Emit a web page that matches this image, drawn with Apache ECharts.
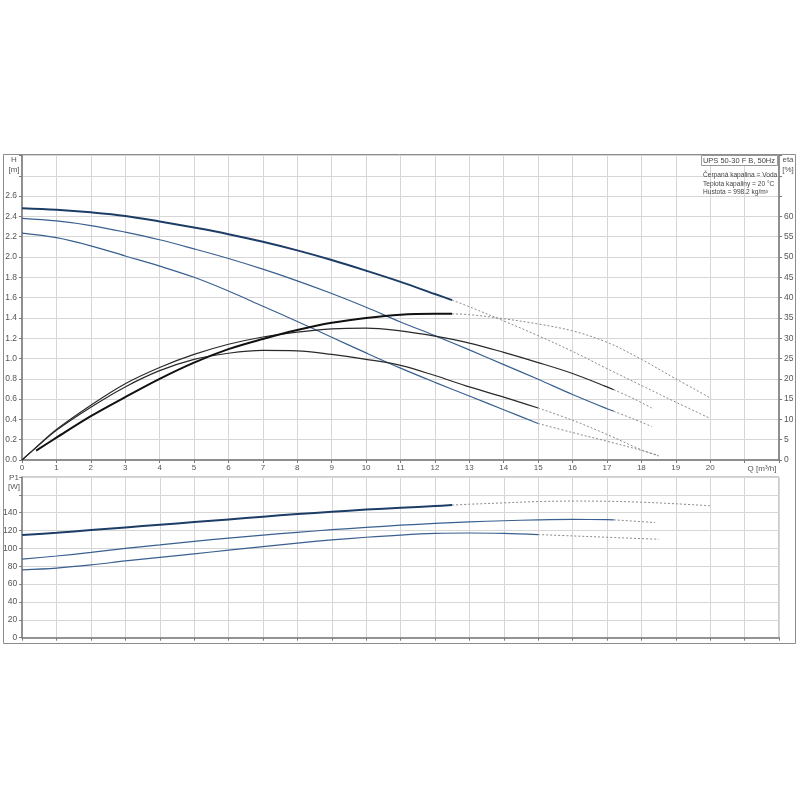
<!DOCTYPE html>
<html><head><meta charset="utf-8">
<script src="https://cdn.jsdelivr.net/npm/echarts@6/dist/echarts.min.js"></script>
<style>html,body{margin:0;padding:0;background:#fff}#c{width:800px;height:800px}</style>
</head><body><div id="c"></div>
<script>
// ---- data: head H [m] ----
const qH1 = [0,1,2,3,4,5,6,7,8,9,10,11,12,12.5];
const h1 = [2.48,2.465,2.44,2.405,2.35,2.29,2.225,2.15,2.065,1.97,1.865,1.755,1.635,1.575];
const qH1Ext = [12.5,13,14,15,16,17,18,19,20];
const h1Ext = [1.575,1.51,1.37,1.225,1.07,0.9,0.735,0.57,0.41];

const qH2 = [0,1,2,3,4,5,6,7,8,9,10,11,12,13,14,15,16,17,17.2];
const h2 = [2.38,2.355,2.31,2.245,2.17,2.08,1.985,1.88,1.765,1.64,1.505,1.36,1.225,1.085,0.94,0.795,0.645,0.505,0.48];
const qH2Ext = [17.2,17.8,18.3];
const h2Ext = [0.48,0.40,0.33];

const qH3 = [0,1,2,3,4,5,6,7,8,9,10,11,12,13,14,15];
const h3 = [2.235,2.19,2.11,2.01,1.91,1.80,1.665,1.515,1.365,1.21,1.055,0.905,0.765,0.63,0.495,0.36];
const qH3Ext = [15,16,17,18,18.5];
const h3Ext = [0.36,0.27,0.185,0.095,0.045];

// ---- data: efficiency eta [%] ----
const qE1 = [0.41,1,2,3,4,5,6,7,8,9,10,11,12,12.5];
const eta1 = [2.3,5.5,10.8,15.5,20,24,27.3,29.8,32,33.8,35,35.8,36,36];
const qE1Ext = [12.5,13,14,15,16,17,18,19,20];
const eta1Ext = [36,35.8,34.8,33.5,31.8,29,24.8,20,15.3];

const qE2 = [0,0.33,1,2,3,4,5,6,7,8,9,10,11,12,13,14,15,16,17,17.2];
const eta2 = [0,2.5,7.5,13.5,18.8,22.8,26,28.5,30.3,31.5,32.3,32.5,31.8,30.5,28.8,26.5,24,21.3,18,17.3];
const qE2Ext = [17.2,17.8,18.3];
const eta2Ext = [17.3,15,12.8];

const qE3 = [0,0.33,1,2,3,4,5,6,7,8,9,10,11,12,13,14,15];
const eta3 = [0,2.5,7.3,13,18,22,24.8,26.3,27,26.9,26,24.8,23.3,20.8,18,15.5,12.8];
const qE3Ext = [15,16,17,18,18.5];
const eta3Ext = [12.8,9.8,6.3,2.5,1];

// ---- data: power P1 [W] ----
const qP1 = [0,1,2,3,4,5,6,7,8,9,10,11,12,12.5];
const p1 = [115,117.5,120.5,123.5,126.5,129.5,132.5,135.5,138.5,141,143.5,145.5,147.5,148.5];
const qP1Ext = [12.5,13,14,15,16,17,18,19,20];
const p1Ext = [148.5,149.5,151,152.5,153,152.8,151.8,150,147.8];

const qP2 = [0,1,2,3,4,5,6,7,8,9,10,11,12,13,14,15,16,17,17.2];
const p2 = [88,91.5,95.5,100,104,108,111.5,115,118,121,123.5,126,128,129.8,131,132,132.5,132.2,132];
const qP2Ext = [17.2,18.4];
const p2Ext = [132,129];

const qP3 = [0,1,2,3,4,5,6,7,8,9,10,11,12,13,14,15];
const p3 = [76,78,81.5,86,90,94,98,102,106,109.5,112.5,115,116.8,117.3,116.8,115.5];
const qP3Ext = [15,16,17,18,18.5];
const p3Ext = [115.5,114,112.5,111,110.3];

// ---- labels ----
const titleText = 'UPS 50-30 F B, 50Hz';
const infoLines = ['Čerpaná kapalina = Voda','Teplota kapaliny = 20 °C','Hustota = 998.2 kg/m³'];

const zip = (xs, ys) => xs.map((x, i) => [x, ys[i]]);
const FONT = 'Liberation Sans, Arial, sans-serif';
const LBL = '#555';
const GRID = '#d6d6d6';
const AXL = '#7a7a7a';

function solid(name, xs, ys, xi, yi, color, width) {
  return {name, type:'line', xAxisIndex:xi, yAxisIndex:yi, data:zip(xs,ys), smooth:0.35,
    showSymbol:false, symbol:'none', lineStyle:{color, width}, silent:true, z:3};
}
function dotted(name, xs, ys, xi, yi) {
  return {name, type:'line', xAxisIndex:xi, yAxisIndex:yi, data:zip(xs,ys), smooth:0.35,
    showSymbol:false, symbol:'none', lineStyle:{color:'#8a8a8a', width:1, type:[2,2]}, silent:true, z:2};
}

const chart = echarts.init(document.getElementById('c'), null, {renderer:'canvas'});
const BLUE_D = '#1d3d66', BLUE = '#3a6090', BLK = '#111', BLK2 = '#2a2a2a';

const xCommon = {type:'value', min:0, max:22, interval:1,
  splitLine:{show:true, lineStyle:{color:GRID, width:1}},
  axisLine:{show:true, onZero:false, lineStyle:{color:AXL, width:1.5}},
  axisTick:{show:true, length:3, lineStyle:{color:AXL}}};

chart.setOption({
  animation:false,
  backgroundColor:'#fff',
  textStyle:{fontFamily:FONT},
  grid:[
    {left:22, right:21, top:155.5, height:304.5, show:true, borderColor:'#999', borderWidth:1},
    {left:22, right:21, top:477, height:160.7, show:true, borderColor:'#999', borderWidth:1}
  ],
  xAxis:[
    Object.assign({}, xCommon, {gridIndex:0,
      axisLabel:{show:true, color:LBL, fontSize:8, margin:4, fontFamily:FONT,
        formatter:v => v <= 20 ? String(v) : ''}}),
    Object.assign({}, xCommon, {gridIndex:1, axisLabel:{show:false}})
  ],
  yAxis:[
    {type:'value', gridIndex:0, min:0, max:3.0, interval:0.2, position:'left',
      splitLine:{show:true, lineStyle:{color:GRID}},
      axisLine:{show:true, onZero:false, lineStyle:{color:AXL, width:1.5}},
      axisTick:{show:true, length:3, lineStyle:{color:AXL}},
      axisLabel:{color:LBL, fontSize:8.5, margin:5, fontFamily:FONT,
        formatter:v => v > 2.65 ? '' : v.toFixed(1)}},
    {type:'value', gridIndex:0, min:0, max:75, interval:5, position:'right',
      splitLine:{show:false},
      axisLine:{show:true, onZero:false, lineStyle:{color:AXL, width:1.5}},
      axisTick:{show:true, length:3, lineStyle:{color:AXL}},
      axisLabel:{color:LBL, fontSize:8.5, margin:5, fontFamily:FONT,
        formatter:v => v > 62 ? '' : String(v)}},
    {type:'value', gridIndex:1, min:0, max:180, interval:20, position:'left',
      splitLine:{show:true, lineStyle:{color:GRID}},
      axisLine:{show:true, onZero:false, lineStyle:{color:AXL, width:1.5}},
      axisTick:{show:true, length:3, lineStyle:{color:AXL}},
      axisLabel:{color:LBL, fontSize:8.5, margin:5, fontFamily:FONT,
        formatter:v => v > 150 ? '' : String(v)}}
  ],
  series:[
    dotted('H1 ext', qH1Ext, h1Ext, 0, 0),
    dotted('H2 ext', qH2Ext, h2Ext, 0, 0),
    dotted('H3 ext', qH3Ext, h3Ext, 0, 0),
    dotted('eta1 ext', qE1Ext, eta1Ext, 0, 1),
    dotted('eta2 ext', qE2Ext, eta2Ext, 0, 1),
    dotted('eta3 ext', qE3Ext, eta3Ext, 0, 1),
    dotted('P1 ext', qP1Ext, p1Ext, 1, 2),
    dotted('P2 ext', qP2Ext, p2Ext, 1, 2),
    dotted('P3 ext', qP3Ext, p3Ext, 1, 2),
    solid('H2', qH2, h2, 0, 0, BLUE, 1.2),
    solid('H3', qH3, h3, 0, 0, BLUE, 1.2),
    solid('H1', qH1, h1, 0, 0, BLUE_D, 2),
    solid('eta2', qE2, eta2, 0, 1, BLK2, 1.2),
    solid('eta3', qE3, eta3, 0, 1, BLK2, 1.2),
    solid('eta1', qE1, eta1, 0, 1, BLK, 2),
    solid('P2', qP2, p2, 1, 2, BLUE, 1.2),
    solid('P3', qP3, p3, 1, 2, BLUE, 1.2),
    solid('P1', qP1, p1, 1, 2, BLUE_D, 2)
  ],
  graphic:[
    {type:'rect', shape:{x:3.5, y:154.5, width:792, height:489}, style:{fill:'none', stroke:'#8c8c8c', lineWidth:1}, z:100, silent:true},
    {type:'rect', shape:{x:701.5, y:155.5, width:76, height:10}, style:{fill:'#fff', stroke:'#999', lineWidth:1}, z:101, silent:true},
    {type:'text', x:775, y:160.5, style:{text:titleText, fill:'#444', font:'7.5px '+FONT, textAlign:'right', textVerticalAlign:'middle'}, z:102},
    {type:'text', x:703, y:175, style:{text:infoLines[0], fill:'#444', font:'6.6px '+FONT, textVerticalAlign:'middle'}, z:102},
    {type:'text', x:703, y:184, style:{text:infoLines[1], fill:'#444', font:'6.6px '+FONT, textVerticalAlign:'middle'}, z:102},
    {type:'text', x:703, y:192.5, style:{text:infoLines[2], fill:'#444', font:'6.6px '+FONT, textVerticalAlign:'middle'}, z:102},
    {type:'text', x:14, y:160, style:{text:'H', fill:LBL, font:'8px '+FONT, textAlign:'center', textVerticalAlign:'middle'}, z:102},
    {type:'text', x:14, y:169.5, style:{text:'[m]', fill:LBL, font:'8px '+FONT, textAlign:'center', textVerticalAlign:'middle'}, z:102},
    {type:'text', x:788, y:160, style:{text:'eta', fill:LBL, font:'8px '+FONT, textAlign:'center', textVerticalAlign:'middle'}, z:102},
    {type:'text', x:788, y:169.5, style:{text:'[%]', fill:LBL, font:'8px '+FONT, textAlign:'center', textVerticalAlign:'middle'}, z:102},
    {type:'text', x:14, y:477.5, style:{text:'P1', fill:LBL, font:'8px '+FONT, textAlign:'center', textVerticalAlign:'middle'}, z:102},
    {type:'text', x:14, y:487, style:{text:'[W]', fill:LBL, font:'8px '+FONT, textAlign:'center', textVerticalAlign:'middle'}, z:102},
    {type:'rect', shape:{x:746, y:463, width:31, height:11}, style:{fill:'#fff'}, z:101, silent:true},
    {type:'text', x:762, y:469, style:{text:'Q [m³/h]', fill:LBL, font:'8px '+FONT, textAlign:'center', textVerticalAlign:'middle'}, z:102}
  ]
});
</script>
</body></html>
